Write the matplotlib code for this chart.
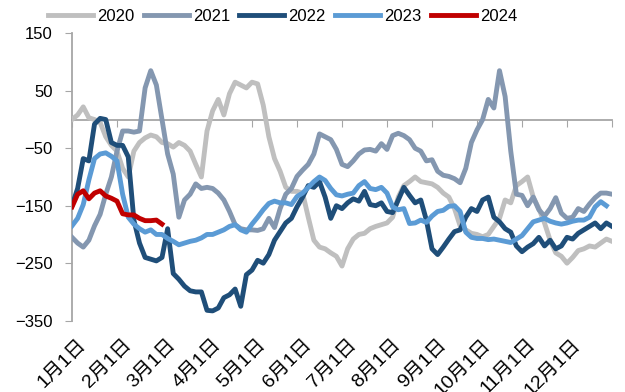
import matplotlib.pyplot as plt
import matplotlib.transforms as mtransforms
import numpy as np

plt.rcParams['font.family'] = ['Liberation Sans', 'Noto Sans CJK SC']

# tick labels for the start of each month
months = ['1月1日', '2月1日', '3月1日', '4月1日', '5月1日', '6月1日',
          '7月1日', '8月1日', '9月1日', '10月1日', '11月1日', '12月1日']
years = ['2020', '2021', '2022', '2023', '2024']

# spread values, sampled every 1/8 of a month from 1月1日
v2020 = [0, 8, 22, 3, 0, -5, -30, -45, -55, -85, -100, -55, -40, -32, -27, -30,
         -40, -42, -48, -40, -45, -55, -78, -100, -20, 15, 35, 8, 45, 65, 60, 55,
         65, 62, 25, -30, -68, -90, -118, -125, -125, -128, -170, -210, -222, -225,
         -232, -238, -255, -225, -208, -200, -198, -190, -186, -183, -180, -170, -135, -115,
         -108, -100, -108, -110, -112, -118, -128, -135, -155, -185, -192, -198, -200, -204,
         -200, -186, -172, -140, -145, -115, -108, -100, -135, -155, -180, -210, -232, -238,
         -250, -240, -228, -225, -220, -222, -215, -208, -212]
v2021 = [-205, -215, -222, -210, -185, -165, -130, -100, -55, -20, -20, -22, -20, 55, 85, 60,
         0, -60, -95, -170, -140, -130, -112, -120, -118, -120, -128, -140, -160, -183, -190, -192,
         -192, -193, -190, -172, -188, -155, -130, -120, -99, -88, -78, -60, -25, -30,
         -35, -52, -78, -82, -72, -60, -53, -52, -55, -42, -52, -28, -24, -28,
         -35, -50, -55, -72, -70, -90, -97, -99, -103, -110, -85, -40, -18, 0,
         35, 20, 85, 40, -55, -130, -132, -150, -135, -157, -168, -155, -136, -163,
         -172, -170, -155, -160, -147, -136, -128, -128, -130]
v2022 = [-150, -120, -68, -72, -8, 2, 0, -40, -45, -45, -65, -175, -215, -240, -243, -246,
         -240, -190, -268, -278, -290, -298, -300, -300, -332, -333, -328, -310, -305, -295, -325, -270,
         -262, -245, -250, -235, -210, -195, -180, -172, -152, -135, -115, -118, -108, -135,
         -172, -150, -155, -145, -138, -142, -125, -148, -150, -145, -160, -162, -140, -118,
         -132, -145, -140, -175, -225, -235, -222, -208, -195, -192, -170, -155, -160, -140,
         -135, -170, -178, -190, -196, -220, -230, -222, -216, -205, -220, -210, -225, -220,
         -205, -208, -198, -192, -186, -180, -190, -180, -186]
v2023 = [-185, -172, -148, -105, -68, -60, -58, -64, -72, -130, -170, -182, -190, -196, -192, -200,
         -200, -207, -212, -218, -215, -212, -210, -206, -200, -200, -196, -192, -186, -183, -192, -196,
         -182, -170, -157, -146, -142, -145, -145, -148, -134, -128, -118, -108, -100, -106,
         -120, -131, -133, -130, -128, -115, -108, -120, -122, -118, -128, -152, -157, -155,
         -181, -180, -175, -179, -168, -160, -158, -151, -150, -160, -196, -205, -207, -207,
         -209, -208, -210, -212, -214, -208, -202, -190, -178, -175, -172, -177, -180, -182,
         -180, -177, -175, -175, -170, -152, -143, -150]
v2024 = [-152, -130, -124, -138, -128, -124, -133, -137, -142, -164, -166, -166, -172, -176, -176, -175,
         -182]

series = [v2020, v2021, v2022, v2023, v2024]
colors = ['#BFBFBF', '#8497B0', '#1F4E79', '#5B9BD5', '#C00000']
axis_gray = '#A6A6A6'

fig = plt.figure(figsize=(6.25, 3.92), dpi=100)
ax = fig.add_axes([0.1152, 0.182, 0.864, 0.733])

for name, vals, c in zip(years, series, colors):
    x = np.arange(len(vals)) / 8
    ax.plot(x, vals, color=c, lw=3.5, label=name, solid_joinstyle='round')

ax.set_xlim(0, 12)
ax.set_ylim(-350, 150)
ax.set_yticks([-350, -250, -150, -50, 50, 150])
ax.tick_params(axis='y', length=5, color=axis_gray, labelsize=12, pad=9)

# category axis crosses at zero, labels stay at the bottom
for s in ['top', 'right']:
    ax.spines[s].set_visible(False)
ax.spines['bottom'].set_position(('data', 0))
for s in ['bottom', 'left']:
    ax.spines[s].set_color(axis_gray)
    ax.spines[s].set_linewidth(1.3)
    ax.spines[s].set_zorder(0.5)
ax.set_xticks(np.arange(13))
ax.tick_params(axis='x', length=5, color=axis_gray, labelbottom=False)

sec = ax.secondary_xaxis('bottom')
sec.spines['bottom'].set_visible(False)
sec.set_xticks(np.arange(12), months)
sec.tick_params(length=0, labelsize=14, pad=11)
shift = mtransforms.ScaledTranslation(4 / 72, 0, fig.dpi_scale_trans)
for lbl in sec.get_xticklabels():
    lbl.set_rotation(45)
    lbl.set_rotation_mode('anchor')
    lbl.set_ha('right')
    lbl.set_va('top')
    lbl.set_transform(lbl.get_transform() + shift)

fig.legend(loc='center', bbox_to_anchor=(0.452, 0.958), ncol=5, frameon=False,
           fontsize=12, handlelength=2.7, handletextpad=0.25, columnspacing=0.55)

fig.savefig('out.png', dpi=100)
